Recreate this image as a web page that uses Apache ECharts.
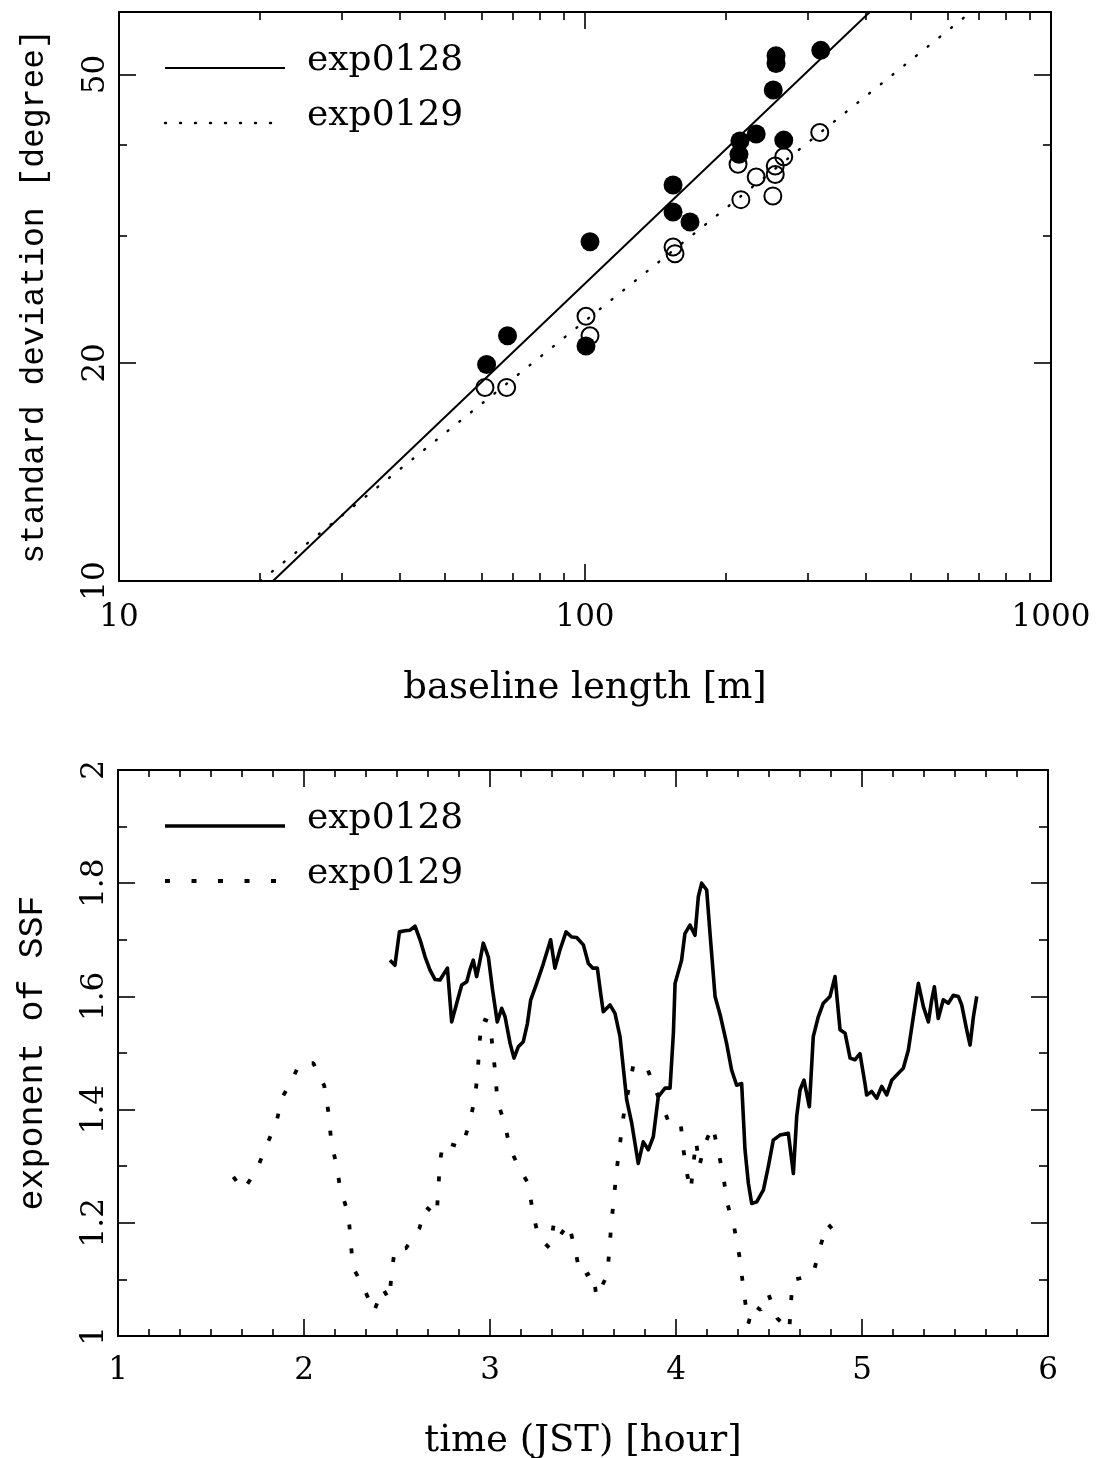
<!DOCTYPE html>
<html><head><meta charset="utf-8">
<script src="https://cdn.jsdelivr.net/npm/echarts@6/dist/echarts.min.js"></script>
<style>html,body{margin:0;padding:0;background:#fff}#c{width:1099px;height:1458px}</style>
</head><body><div id="c"></div>
<script>
// ---- top panel: standard deviation vs baseline length ----
const baselineFilled = [61.5, 68.2, 102.5, 100.5, 154.5, 154.5, 168, 215, 214, 233, 267, 253.5, 257, 257, 320.6];
const sdFilled       = [19.9, 21.8, 29.4, 21.1, 35.2, 32.3, 31.3, 40.5, 38.8, 41.4, 40.6, 47.6, 53.1, 51.8, 54.0];
const baselineOpen   = [61, 67.9, 100.5, 102.5, 154.5, 156, 213, 216, 233, 253, 256, 256, 267, 319];
const sdOpen         = [18.5, 18.5, 23.2, 21.8, 28.9, 28.3, 37.6, 33.6, 36.1, 34.0, 36.4, 37.4, 38.5, 41.6];
const fitBaseline128 = [21.4, 414];
const fitSd128       = [10, 61.5];
const fitBaseline129 = [20.1, 684];
const fitSd129       = [10, 61.5];
const xMajorTop = [10, 100, 1000];
const xMinorTop = [20, 30, 40, 50, 60, 70, 80, 90, 200, 300, 400, 500, 600, 700, 800, 900];
const yMajorTop = [10, 20, 50];
const yMinorTop = [30, 40];
const legendNames = ['exp0128', 'exp0129'];

// ---- bottom panel: exponent of SSF vs time ----
const time128 = [2.462,2.489,2.513,2.543,2.570,2.597,2.624,2.651,2.677,2.704,2.731,2.771,2.794,2.821,2.848,2.875,2.892,2.910,2.928,2.943,2.964,2.991,3.014,3.039,3.063,3.081,3.108,3.129,3.152,3.179,3.201,3.219,3.251,3.287,3.326,3.349,3.376,3.409,3.439,3.466,3.502,3.529,3.552,3.577,3.595,3.609,3.645,3.672,3.699,3.735,3.762,3.797,3.824,3.851,3.878,3.905,3.941,3.968,3.986,3.995,4.030,4.048,4.075,4.102,4.120,4.138,4.165,4.183,4.210,4.240,4.272,4.299,4.326,4.353,4.371,4.389,4.407,4.434,4.470,4.496,4.523,4.559,4.604,4.622,4.631,4.649,4.667,4.688,4.717,4.738,4.765,4.792,4.828,4.855,4.882,4.909,4.936,4.962,4.989,5.016,5.025,5.052,5.079,5.106,5.133,5.160,5.195,5.222,5.249,5.276,5.303,5.330,5.357,5.375,5.389,5.410,5.437,5.464,5.491,5.518,5.536,5.563,5.581,5.599,5.617];
const ssf128  = [1.664,1.655,1.714,1.716,1.717,1.724,1.700,1.670,1.647,1.630,1.629,1.650,1.555,1.588,1.620,1.626,1.647,1.664,1.635,1.658,1.694,1.670,1.611,1.555,1.579,1.564,1.517,1.491,1.511,1.520,1.552,1.594,1.623,1.658,1.700,1.650,1.682,1.714,1.705,1.704,1.691,1.658,1.650,1.650,1.605,1.573,1.585,1.570,1.529,1.417,1.376,1.305,1.343,1.329,1.352,1.423,1.438,1.438,1.535,1.623,1.664,1.711,1.726,1.708,1.776,1.800,1.788,1.711,1.600,1.564,1.517,1.470,1.443,1.446,1.329,1.270,1.234,1.237,1.258,1.299,1.346,1.355,1.358,1.311,1.287,1.388,1.435,1.452,1.405,1.529,1.564,1.588,1.600,1.635,1.541,1.535,1.491,1.488,1.499,1.446,1.426,1.432,1.420,1.441,1.426,1.452,1.464,1.473,1.505,1.564,1.623,1.582,1.555,1.594,1.617,1.561,1.594,1.588,1.602,1.600,1.585,1.541,1.514,1.564,1.600];
const time129 = [1.620,1.674,1.745,1.799,1.853,1.880,1.921,1.978,2.050,2.109,2.131,2.145,2.172,2.197,2.238,2.251,2.262,2.319,2.376,2.423,2.459,2.471,2.489,2.548,2.620,2.656,2.713,2.722,2.731,2.749,2.848,2.889,2.919,2.934,2.943,2.955,3.000,3.014,3.030,3.039,3.081,3.107,3.152,3.206,3.229,3.260,3.322,3.344,3.376,3.421,3.457,3.484,3.502,3.552,3.573,3.631,3.642,3.654,3.667,3.681,3.699,3.717,3.744,3.771,3.842,3.887,3.923,3.964,4.025,4.040,4.061,4.079,4.093,4.108,4.125,4.156,4.197,4.228,4.255,4.276,4.314,4.340,4.358,4.376,4.389,4.416,4.455,4.496,4.545,4.609,4.617,4.627,4.667,4.738,4.771,4.814,4.855];
const ssf129  = [1.281,1.258,1.293,1.337,1.379,1.420,1.443,1.482,1.482,1.442,1.396,1.349,1.304,1.258,1.216,1.170,1.122,1.087,1.043,1.084,1.064,1.112,1.155,1.155,1.190,1.228,1.212,1.259,1.308,1.343,1.333,1.375,1.420,1.467,1.514,1.561,1.555,1.508,1.461,1.416,1.373,1.332,1.300,1.269,1.221,1.175,1.155,1.200,1.177,1.199,1.155,1.108,1.105,1.114,1.069,1.108,1.155,1.204,1.246,1.293,1.340,1.387,1.435,1.479,1.476,1.436,1.410,1.375,1.376,1.329,1.284,1.257,1.302,1.345,1.300,1.340,1.371,1.326,1.281,1.234,1.190,1.143,1.096,1.051,1.022,1.055,1.046,1.075,1.031,1.010,1.053,1.099,1.102,1.110,1.153,1.199,1.183];

const zip = (a, b) => a.map((v, i) => [v, b[i]]);
const INK = '#000';
const SERIF = 'DejaVu Serif';
const MONO = 'Liberation Mono';

function logAxis(o) {
  return Object.assign({
    type: 'log', logBase: 10, splitLine: {show: false},
    axisLine: {show: true, lineStyle: {color: INK, width: 2}},
    axisTick: {show: true, inside: true, length: 17, lineStyle: {color: INK, width: 1.6}},
    axisLabel: {show: false}
  }, o);
}
function valAxis(o) {
  return Object.assign({
    type: 'value', splitLine: {show: false},
    axisLine: {show: true, lineStyle: {color: INK, width: 2}},
    axisTick: {show: true, inside: true, length: 17, lineStyle: {color: INK, width: 1.6}},
    minorTick: {show: true, length: 8, lineStyle: {color: INK, width: 1.6}},
    axisLabel: {show: false}
  }, o);
}
const minorTickStyle = (vals) => ({show: true, inside: true, length: 8, customValues: vals, lineStyle: {color: INK, width: 1.6}});
const majorTickStyle = (vals) => ({show: true, inside: true, length: 17, customValues: vals, lineStyle: {color: INK, width: 1.6}});
const plain = (v) => String(v);

// legend samples (drawn as graphics so each panel has its own key)
function legendItem(yLine, name, lineStyle, x2) {
  return [
    {type: 'line', silent: true, shape: {x1: 165, y1: yLine, x2: x2 || 285, y2: yLine}, style: Object.assign({stroke: INK}, lineStyle)},
    {type: 'text', silent: true, x: 307, y: yLine - 7,
      style: {text: name, fontFamily: SERIF, fontSize: 36, fill: INK, verticalAlign: 'middle', align: 'left'}}
  ];
}

const option = {
  backgroundColor: '#fff',
  animation: false,
  grid: [
    {left: 119, top: 12, width: 932, height: 569, outerBoundsMode: 'none', containLabel: false},
    {left: 118, top: 770, width: 930, height: 566, outerBoundsMode: 'none', containLabel: false}
  ],
  graphic: [].concat(
    legendItem(68, legendNames[0], {lineWidth: 2}),
    legendItem(123, legendNames[1], {lineWidth: 2.4, lineDash: [1, 14], lineCap: 'round'}),
    legendItem(826, legendNames[0], {lineWidth: 3.6}),
    legendItem(881, legendNames[1], {lineWidth: 3.8, lineDash: [5, 21.5]}, 276)
  ),
  xAxis: [
    logAxis({gridIndex: 0, position: 'bottom', min: 10, max: 1000,
      axisTick: majorTickStyle(xMajorTop),
      axisLabel: {show: true, customValues: xMajorTop, formatter: plain, fontFamily: SERIF, fontSize: 31, color: INK, margin: 21},
      name: 'baseline length [m]', nameLocation: 'middle', nameGap: 89,
      nameTextStyle: {fontFamily: SERIF, fontSize: 37, color: INK}}),
    logAxis({gridIndex: 0, position: 'bottom', min: 10, max: 1000, axisLine: {show: false},
      axisTick: minorTickStyle(xMinorTop)}),
    logAxis({gridIndex: 0, position: 'top', min: 10, max: 1000, axisTick: majorTickStyle(xMajorTop)}),
    logAxis({gridIndex: 0, position: 'top', min: 10, max: 1000, axisLine: {show: false},
      axisTick: minorTickStyle(xMinorTop)}),
    valAxis({gridIndex: 1, position: 'bottom', min: 1, max: 6, interval: 1,
      minorTick: {show: true, splitNumber: 6, length: 7, lineStyle: {color: INK, width: 1.6}},
      axisLabel: {show: true, formatter: plain, fontFamily: SERIF, fontSize: 31, color: INK, margin: 19},
      name: 'time (JST) [hour]', nameLocation: 'middle', nameGap: 87,
      nameTextStyle: {fontFamily: SERIF, fontSize: 37, color: INK}}),
    valAxis({gridIndex: 1, position: 'top', min: 1, max: 6, interval: 1,
      minorTick: {show: true, splitNumber: 6, length: 7, lineStyle: {color: INK, width: 1.6}}})
  ],
  yAxis: [
    logAxis({gridIndex: 0, position: 'left', min: 10, max: 61,
      axisTick: majorTickStyle(yMajorTop),
      axisLabel: {show: true, customValues: yMajorTop, formatter: plain, rotate: 90, fontFamily: SERIF, fontSize: 31, color: INK, margin: 8},
      name: 'standard deviation [degree]', nameLocation: 'middle', nameRotate: 90, nameGap: 68,
      nameTextStyle: {fontFamily: MONO, fontSize: 33, color: INK}}),
    logAxis({gridIndex: 0, position: 'left', min: 10, max: 61, axisLine: {show: false},
      axisTick: minorTickStyle(yMinorTop)}),
    logAxis({gridIndex: 0, position: 'right', min: 10, max: 61, axisTick: majorTickStyle(yMajorTop)}),
    logAxis({gridIndex: 0, position: 'right', min: 10, max: 61, axisLine: {show: false},
      axisTick: minorTickStyle(yMinorTop)}),
    valAxis({gridIndex: 1, position: 'left', min: 1, max: 2, interval: 0.2,
      minorTick: {show: true, splitNumber: 2, length: 9, lineStyle: {color: INK, width: 1.6}},
      axisLabel: {show: true, rotate: 90, fontFamily: SERIF, fontSize: 31, color: INK, margin: 8},
      name: 'exponent of SSF', nameLocation: 'middle', nameRotate: 90, nameGap: 68,
      nameTextStyle: {fontFamily: MONO, fontSize: 35, color: INK}}),
    valAxis({gridIndex: 1, position: 'right', min: 1, max: 2, interval: 0.2,
      minorTick: {show: true, splitNumber: 2, length: 9, lineStyle: {color: INK, width: 1.6}}})
  ],
  series: [
    {name: 'exp0128 fit', type: 'line', xAxisIndex: 0, yAxisIndex: 0, symbol: 'none', clip: true,
      data: zip(fitBaseline128, fitSd128), lineStyle: {color: INK, width: 2}, itemStyle: {color: INK}},
    {name: 'exp0129 fit', type: 'line', xAxisIndex: 0, yAxisIndex: 0, symbol: 'none', clip: true,
      data: zip(fitBaseline129, fitSd129), lineStyle: {color: INK, width: 2.4, type: [1, 14], cap: 'round'}, itemStyle: {color: INK}},
    {name: 'exp0128 points', type: 'scatter', xAxisIndex: 0, yAxisIndex: 0, symbol: 'circle', symbolSize: 19,
      data: zip(baselineFilled, sdFilled), itemStyle: {color: INK, opacity: 1}},
    {name: 'exp0129 points', type: 'scatter', xAxisIndex: 0, yAxisIndex: 0, symbol: 'circle', symbolSize: 17,
      data: zip(baselineOpen, sdOpen), itemStyle: {color: 'rgba(255,255,255,0)', borderColor: INK, borderWidth: 2, opacity: 1}},
    {name: 'exp0128', type: 'line', xAxisIndex: 4, yAxisIndex: 4, symbol: 'none',
      data: zip(time128, ssf128), lineStyle: {color: INK, width: 3.6, join: 'round'}, itemStyle: {color: INK}},
    {name: 'exp0129', type: 'line', xAxisIndex: 4, yAxisIndex: 4, symbol: 'none',
      data: zip(time129, ssf129), lineStyle: {color: INK, width: 3.8, type: [5, 19]}, itemStyle: {color: INK}}
  ]
};
const chart = echarts.init(document.getElementById('c'), null, {renderer: 'canvas'});
chart.setOption(option);
</script>
</body></html>
